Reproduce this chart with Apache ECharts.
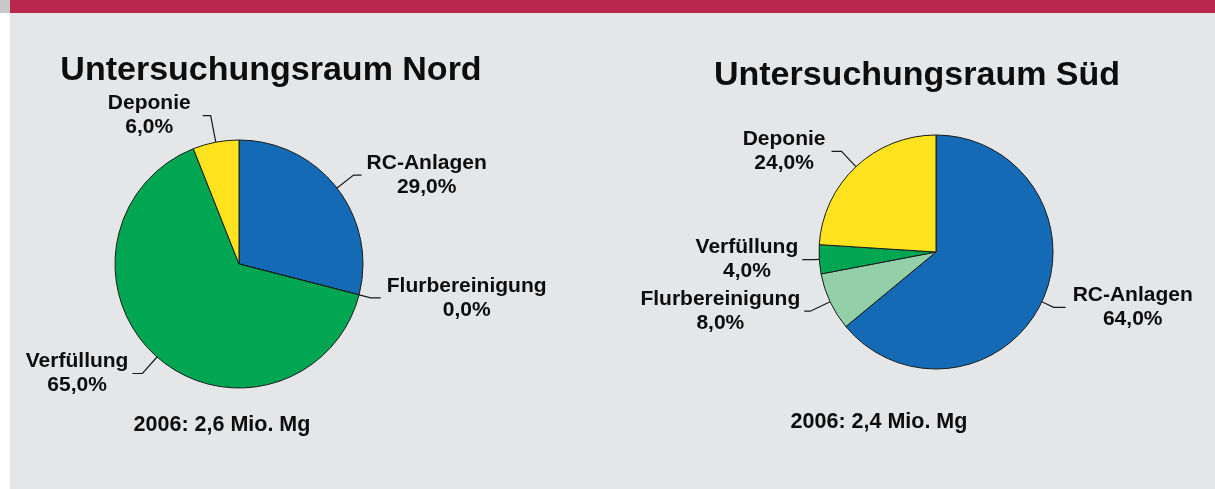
<!DOCTYPE html>
<html>
<head>
<meta charset="utf-8">
<script src="https://cdn.jsdelivr.net/npm/echarts@6/dist/echarts.min.js"></script>
<style>
    html, body { margin: 0; padding: 0; background: #ffffff; }
    #banner { position: absolute; left: 10px; top: 0; width: 1205px; height: 13px; background: #b9274c; }
    #bannerEdge { position: absolute; left: 0; top: 0; width: 10px; height: 13px; background: #c8c8c8; }
    #panel { position: absolute; left: 10px; top: 13px; width: 1205px; height: 476px; background: #e5e6e8; }
    #chart { position: absolute; left: 0; top: 0; width: 1215px; height: 489px; }
</style>
</head>
<body>
<div id="bannerEdge"></div>
<div id="banner"></div>
<div id="panel"></div>
<div id="chart"></div>
<script>
// Anteile in Prozent, Reihenfolge im Uhrzeigersinn ab 12 Uhr
const nordNames = ['RC-Anlagen', 'Flurbereinigung', 'Verfüllung', 'Deponie'];
const nordValues = [29, 0, 65, 6];
const sudNames = ['RC-Anlagen', 'Flurbereinigung', 'Verfüllung', 'Deponie'];
const sudValues = [64, 8, 4, 24];

const nordTitle = 'Untersuchungsraum Nord';
const sudTitle = 'Untersuchungsraum Süd';
const nordTotal = '2006: 2,6 Mio. Mg';
const sudTotal = '2006: 2,4 Mio. Mg';

const sliceColors = {
    'RC-Anlagen': '#146ab4',
    'Flurbereinigung': '#93cfa8',
    'Verfüllung': '#00a651',
    'Deponie': '#ffe31f'
};

// leader line tweaks per slice: [length, length2, distance]
const nordLines = [[21, 8, 5], [12, 10, 6], [22, 10, 4], [27, 8, 12]];
const sudLines = [[13, 12, 7], [22, 6, 4], [5, 12, 4], [21, 10, 6]];

const FONT = '"Liberation Sans", Arial, Helvetica, sans-serif';

function pct(v) {
    return v.toFixed(1).replace('.', ',') + '%';
}

function buildData(names, values, lines) {
    return names.map((n, i) => ({
        name: n,
        value: values[i],
        itemStyle: { color: sliceColors[n] },
        labelLine: { length: lines[i][0], length2: lines[i][1] },
        label: { distanceToLabelLine: lines[i][2] }
    }));
}

function pieSeries(center, radius, data) {
    return {
        type: 'pie',
        center: center,
        radius: radius,
        startAngle: 90,
        clockwise: true,
        avoidLabelOverlap: true,
        animation: false,
        data: data,
        itemStyle: {
            borderColor: '#1a1a1a',
            borderWidth: 1
        },
        label: {
            show: true,
            position: 'outside',
            alignTo: 'none',
            formatter: function (p) {
                return '{t|' + p.name + '}\n{t|' + pct(p.value) + '}';
            },
            rich: {
                t: {
                    align: 'center',
                    fontSize: 21,
                    fontWeight: 'bold',
                    fontFamily: FONT,
                    color: '#0d0d0d',
                    lineHeight: 24
                }
            }
        },
        labelLine: {
            show: true,
            smooth: false,
            lineStyle: { color: '#1a1a1a', width: 1.2 }
        },
        emphasis: { disabled: true }
    };
}

var myChart = echarts.init(document.getElementById('chart'), null, { renderer: 'canvas' });

myChart.setOption({
    backgroundColor: 'transparent',
    graphic: [
        {
            type: 'text', x: 271, y: 71,
            style: { text: nordTitle, font: 'bold 34px ' + FONT, fill: '#0d0d0d', align: 'center', verticalAlign: 'middle' }
        },
        {
            type: 'text', x: 917, y: 76,
            style: { text: sudTitle, font: 'bold 34px ' + FONT, fill: '#0d0d0d', align: 'center', verticalAlign: 'middle' }
        },
        {
            type: 'text', x: 222, y: 425,
            style: { text: nordTotal, font: 'bold 21.5px ' + FONT, fill: '#0d0d0d', align: 'center', verticalAlign: 'middle' }
        },
        {
            type: 'text', x: 879, y: 422,
            style: { text: sudTotal, font: 'bold 21.5px ' + FONT, fill: '#0d0d0d', align: 'center', verticalAlign: 'middle' }
        }
    ],
    series: [
        pieSeries([239, 264], 124, buildData(nordNames, nordValues, nordLines)),
        pieSeries([936, 252], 117, buildData(sudNames, sudValues, sudLines))
    ]
});
</script>
</body>
</html>
